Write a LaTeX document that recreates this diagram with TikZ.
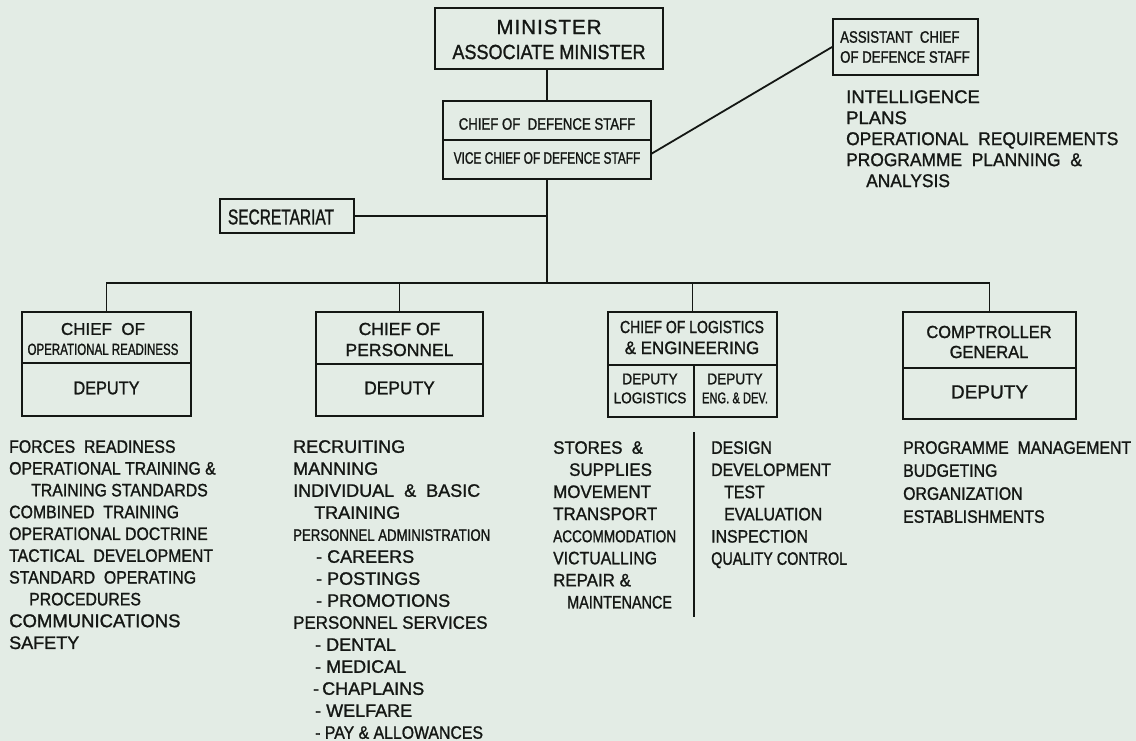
\documentclass[tikz,border=0pt]{standalone}
\usepackage{fontspec}
\setmainfont[FakeBold=1.2]{Liberation Sans}
\newfontfamily\lfW[FakeBold=1.2]{Liberation Sans}
\newfontfamily\lfS[FakeBold=1.2,LetterSpace=5]{Liberation Sans}
\newfontfamily\lfK[FakeBold=1.2,FakeStretch=0.94]{Liberation Sans}
\newfontfamily\lfM[FakeBold=1.2,FakeStretch=0.88]{Liberation Sans}
\newfontfamily\lfL[FakeBold=1.2,FakeStretch=0.8]{Liberation Sans}
\newfontfamily\lfN[FakeBold=1.2,FakeStretch=0.72]{Liberation Sans}
\newcommand\fsz[2]{\fontsize{#1}{#2}\selectfont}
\definecolor{ink}{HTML}{141714}
\definecolor{bg}{HTML}{E3ECE5}
\tikzset{
  box/.style={draw=ink, line width=1.8pt, inner sep=0pt},
  wire/.style={draw=ink, line width=1.8pt},
  lbl/.style={inner sep=0pt, text=ink, align=center},
  lst/.style={inner sep=0pt, text=ink, align=left, anchor=north west},
}
\begin{document}
\begin{tikzpicture}[x=1pt,y=-1pt]
\useasboundingbox[fill=bg] (0,0) rectangle (1136,741);

% boxes
\node[box, minimum width=228pt, minimum height=61pt] (min) at (549,38.5) {};
\node[box, minimum width=208pt, minimum height=78pt] (cds) at (547,140) {};
\node[box, minimum width=145pt, minimum height=56pt] (acds) at (905.5,47) {};
\node[box, minimum width=134pt, minimum height=34pt] (sec) at (287,216) {};
\node[box, minimum width=169pt, minimum height=104pt] (bo) at (106.5,364) {};
\node[box, minimum width=167pt, minimum height=104pt] (bp) at (399.5,364) {};
\node[box, minimum width=169pt, minimum height=105pt] (bl) at (692.5,364.5) {};
\node[box, minimum width=173pt, minimum height=107pt] (bc) at (989.5,365.5) {};

% dividers
\draw[wire] (cds.west) -- (cds.east);
\draw[wire] (bo.west |- 0,363) -- (bo.east |- 0,363);
\draw[wire] (bp.west |- 0,364) -- (bp.east |- 0,364);
\draw[wire] (bl.west |- 0,365) -- (bl.east |- 0,365);
\draw[wire] (694,365) -- (bl.south -| 694,0);
\draw[wire] (bc.west |- 0,368) -- (bc.east |- 0,368);

% connectors
\coordinate (bar) at (547,283);
\draw[wire] (min.south -| cds.north) -- (cds.north);
\draw[wire] (cds.south) -- (bar);
\draw[wire] (bo.north) |- (bar) -| (bc.north);
\draw[wire] (bp.north) -- (bp.north |- bar);
\draw[wire] (bl.north) -- (bl.north |- bar);
\draw[wire] (sec.east) -- (sec.east -| cds.south);
\coordinate (cdsr) at (651,154);
\draw[wire] (cdsr) -- (acds.west);

% box labels
\node[lbl, font=\fsz{20.5}{25}] (tmin) at (549,39.5) {\lfS MINISTER\\\lfM ASSOCIATE MINISTER};
\node[lbl, font=\fsz{16.5}{20}] (tcds) at (547,124) {\lfL CHIEF OF\ \ DEFENCE STAFF};
\node[lbl, font=\lfN\fsz{16.5}{20}] (tvcds) at (547,158) {VICE CHIEF OF DEFENCE STAFF};
\node[lbl, align=left, anchor=west, font=\lfL\fsz{16.5}{20}] (tacds) at (840,47) {ASSISTANT\ \ CHIEF\\OF DEFENCE STAFF};
\node[lbl, font=\lfN\fsz{21.5}{25}] (tsec) at (281,217) {SECRETARIAT};

\node[lbl, font=\fsz{17}{20}] (tbo) at (103,339) {\lfW CHIEF\ \ OF\\\lfN\fsz{16}{20}OPERATIONAL READINESS};
\node[lbl, font=\lfM\fsz{18.5}{20}] (tbod) at (106.5,388) {DEPUTY};
\node[lbl, font=\lfW\fsz{17.5}{21}] (tbp) at (399.5,339.5) {CHIEF OF\\PERSONNEL};
\node[lbl, font=\lfK\fsz{18.5}{20}] (tbpd) at (399.5,388) {DEPUTY};
\node[lbl, font=\fsz{17.5}{21}] (tbl) at (692,337.5) {\lfL CHIEF OF LOGISTICS\\\lfK\fsz{18}{21}\&\ ENGINEERING};
\node[lbl, font=\lfM\fsz{15.5}{19}] (tbld1) at (650,388.5) {DEPUTY\\LOGISTICS};
\node[lbl, font=\fsz{15.5}{19}] (tbld2) at (735,388.5) {\lfM DEPUTY\\\lfN ENG. \&\ DEV.};
\node[lbl, font=\lfK\fsz{17.5}{20}] (tbc) at (989,342) {COMPTROLLER\\GENERAL};
\node[lbl, font=\lfW\fsz{19}{20}] (tbcd) at (989.5,392) {DEPUTY};

% lists
\node[lst, font=\lfW\fsz{18.5}{21}] (lacds) at (846,90) {INTELLIGENCE\\PLANS\\{\lfK OPERATIONAL\ \ REQUIREMENTS}\\{\lfK PROGRAMME\ \ PLANNING\ \ \&}\\\hspace*{20pt}{\lfK ANALYSIS}};

\node[lst, font=\lfM\fsz{18}{21.8}] (lor) at (9,440) {FORCES\ \ READINESS\\OPERATIONAL TRAINING \&\\\hspace*{22pt}TRAINING STANDARDS\\COMBINED\ \ TRAINING\\OPERATIONAL DOCTRINE\\TACTICAL\ \ DEVELOPMENT\\STANDARD\ \ OPERATING\\\hspace*{20pt}PROCEDURES\\{\lfW\fsz{18.5}{21.8}COMMUNICATIONS}\\{\lfW SAFETY}};

\node[lst, font=\lfW\fsz{18}{22}] (lpe) at (293,440) {RECRUITING\\MANNING\\INDIVIDUAL\ \ \&\ \ BASIC\\\hspace*{21pt}TRAINING\\{\lfL\fsz{16.5}{22}PERSONNEL ADMINISTRATION}\\\hspace*{23pt}- CAREERS\\\hspace*{23pt}- POSTINGS\\\hspace*{23pt}- PROMOTIONS\\{\lfK PERSONNEL SERVICES}\\\hspace*{22pt}- DENTAL\\\hspace*{22pt}- MEDICAL\\\hspace*{20pt}-\,CHAPLAINS\\\hspace*{22pt}- WELFARE\\\hspace*{22pt}{\lfM - PAY \&\ ALLOWANCES}};

\node[lst, font=\lfK\fsz{18}{22.1}] (llg) at (553,441) {STORES\ \ \&\\\hspace*{16pt}SUPPLIES\\MOVEMENT\\TRANSPORT\\{\lfL\fsz{17}{22.1}ACCOMMODATION}\\{\lfM VICTUALLING}\\REPAIR \&\\\hspace*{14pt}{\lfL MAINTENANCE}};
\coordinate (vt) at (694,432);
\coordinate (vb) at (694,617);
\draw[wire] (vt) -- (vb);
\node[lst, font=\lfM\fsz{18}{22.2}] (len) at (711,441) {DESIGN\\DEVELOPMENT\\\hspace*{13pt}TEST\\\hspace*{13pt}EVALUATION\\INSPECTION\\{\lfL QUALITY CONTROL}};
\node[lst, font=\lfM\fsz{18}{23}] (lcg) at (903,441) {PROGRAMME\ \ MANAGEMENT\\BUDGETING\\ORGANIZATION\\ESTABLISHMENTS};
\end{tikzpicture}
\end{document}
